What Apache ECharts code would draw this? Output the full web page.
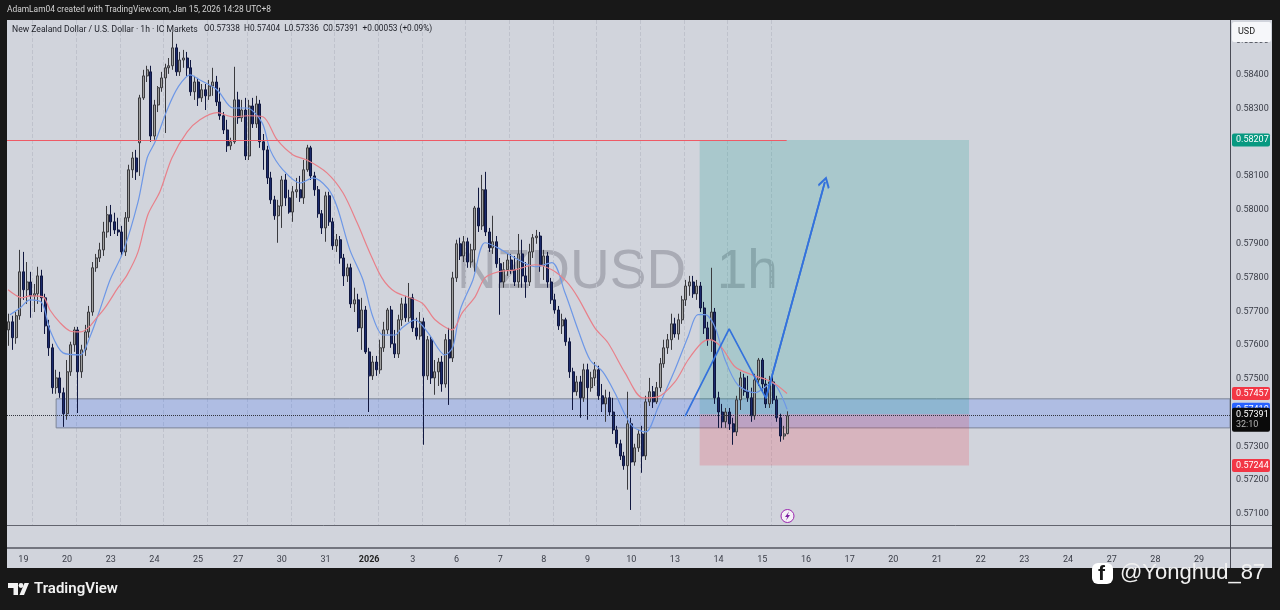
<!DOCTYPE html>
<html>
<head>
<meta charset="utf-8">
<title>NZDUSD 1h</title>
<style>
  html, body { margin: 0; padding: 0; background: #181818; }
  #chart { width: 1280px; height: 610px; }
</style>
<script src="https://cdn.jsdelivr.net/npm/echarts@6/dist/echarts.min.js"></script>
</head>
<body>
<div id="chart"></div>
<script>
// candles in two hour steps
const opens = [0.57645,0.57669,0.57622,0.57687,0.57817,0.57764,0.57787,0.57746,0.57752,0.57805,0.57740,0.57657,0.57592,0.57474,0.57503,0.57459,0.57397,0.57521,0.57601,0.57645,0.57521,0.57586,0.57639,0.57698,0.57829,0.57858,0.57882,0.57935,0.57986,0.57965,0.57941,0.57935,0.57876,0.57977,0.58119,0.58154,0.58199,0.58332,0.58397,0.58409,0.58219,0.58311,0.58362,0.58391,0.58421,0.58427,0.58480,0.58409,0.58444,0.58450,0.58421,0.58350,0.58379,0.58332,0.58356,0.58338,0.58367,0.58379,0.58320,0.58279,0.58237,0.58190,0.58202,0.58326,0.58273,0.58296,0.58160,0.58308,0.58255,0.58314,0.58202,0.58178,0.58095,0.58030,0.57983,0.58012,0.58089,0.58036,0.57994,0.58054,0.58060,0.58036,0.58119,0.58184,0.58101,0.58060,0.57989,0.57947,0.58042,0.57965,0.57894,0.57912,0.57858,0.57805,0.57829,0.57722,0.57734,0.57651,0.57704,0.57580,0.57509,0.57550,0.57527,0.57592,0.57645,0.57704,0.57604,0.57574,0.57675,0.57722,0.57681,0.57740,0.57651,0.57627,0.57669,0.57509,0.57616,0.57503,0.57521,0.57550,0.57485,0.57616,0.57562,0.57799,0.57900,0.57864,0.57906,0.57846,0.57882,0.58006,0.57953,0.58060,0.57935,0.57888,0.57906,0.57841,0.57787,0.57823,0.57852,0.57823,0.57787,0.57870,0.57805,0.57787,0.57876,0.57918,0.57923,0.57835,0.57864,0.57787,0.57734,0.57704,0.57657,0.57675,0.57610,0.57521,0.57462,0.57491,0.57444,0.57527,0.57474,0.57503,0.57527,0.57450,0.57426,0.57444,0.57402,0.57349,0.57308,0.57272,0.57243,0.57367,0.57254,0.57296,0.57337,0.57272,0.57432,0.57462,0.57432,0.57474,0.57545,0.57592,0.57616,0.57663,0.57633,0.57675,0.57734,0.57775,0.57787,0.57752,0.57775,0.57710,0.57651,0.57616,0.57698,0.57444,0.57402,0.57373,0.57402,0.57367,0.57343,0.57438,0.57503,0.57462,0.57444,0.57391,0.57497,0.57556,0.57485,0.57426,0.57491,0.57438,0.57385,0.57331,0.57338];
const closes = [0.57669,0.57622,0.57687,0.57817,0.57764,0.57787,0.57746,0.57752,0.57805,0.57740,0.57657,0.57592,0.57474,0.57503,0.57459,0.57397,0.57521,0.57601,0.57645,0.57521,0.57586,0.57639,0.57698,0.57829,0.57858,0.57882,0.57935,0.57986,0.57965,0.57941,0.57935,0.57876,0.57977,0.58119,0.58154,0.58113,0.58332,0.58397,0.58415,0.58219,0.58311,0.58362,0.58391,0.58421,0.58427,0.58480,0.58409,0.58444,0.58450,0.58421,0.58350,0.58379,0.58332,0.58356,0.58338,0.58367,0.58379,0.58320,0.58279,0.58237,0.58190,0.58202,0.58326,0.58273,0.58296,0.58160,0.58308,0.58255,0.58314,0.58202,0.58178,0.58095,0.58030,0.57983,0.58012,0.58089,0.58036,0.57994,0.58054,0.58060,0.58036,0.58119,0.58184,0.58101,0.58060,0.57989,0.57947,0.58042,0.57965,0.57894,0.57912,0.57858,0.57805,0.57829,0.57722,0.57734,0.57651,0.57704,0.57580,0.57509,0.57550,0.57527,0.57592,0.57645,0.57704,0.57604,0.57574,0.57675,0.57722,0.57681,0.57740,0.57651,0.57627,0.57669,0.57509,0.57616,0.57503,0.57521,0.57550,0.57485,0.57616,0.57562,0.57799,0.57900,0.57864,0.57906,0.57846,0.57882,0.58006,0.57953,0.58060,0.57935,0.57888,0.57906,0.57841,0.57787,0.57823,0.57852,0.57823,0.57787,0.57870,0.57805,0.57787,0.57876,0.57918,0.57923,0.57835,0.57864,0.57787,0.57734,0.57704,0.57657,0.57675,0.57610,0.57521,0.57462,0.57491,0.57444,0.57527,0.57474,0.57503,0.57527,0.57450,0.57426,0.57444,0.57402,0.57349,0.57308,0.57272,0.57243,0.57367,0.57254,0.57296,0.57337,0.57272,0.57432,0.57462,0.57432,0.57474,0.57545,0.57592,0.57616,0.57663,0.57633,0.57675,0.57734,0.57775,0.57787,0.57752,0.57775,0.57710,0.57651,0.57616,0.57698,0.57444,0.57402,0.57373,0.57402,0.57367,0.57343,0.57438,0.57503,0.57462,0.57444,0.57391,0.57497,0.57556,0.57485,0.57426,0.57491,0.57438,0.57385,0.57331,0.57337,0.57391];
const highs = [0.57693,0.57687,0.57698,0.57882,0.57876,0.57846,0.57817,0.57781,0.57832,0.57823,0.57752,0.57675,0.57604,0.57527,0.57521,0.57474,0.57556,0.57610,0.57654,0.57654,0.57601,0.57660,0.57716,0.57846,0.57870,0.57903,0.57965,0.58012,0.58015,0.57992,0.57977,0.57953,0.57994,0.58134,0.58172,0.58178,0.58341,0.58415,0.58427,0.58427,0.58326,0.58367,0.58409,0.58433,0.58450,0.58527,0.58492,0.58468,0.58474,0.58468,0.58444,0.58397,0.58391,0.58373,0.58373,0.58385,0.58421,0.58397,0.58362,0.58290,0.58267,0.58214,0.58424,0.58350,0.58326,0.58332,0.58326,0.58332,0.58338,0.58326,0.58225,0.58190,0.58113,0.58042,0.58030,0.58101,0.58107,0.58060,0.58071,0.58095,0.58101,0.58148,0.58193,0.58190,0.58113,0.58071,0.58000,0.58054,0.58054,0.57977,0.57929,0.57923,0.57870,0.57841,0.57841,0.57770,0.57752,0.57740,0.57716,0.57592,0.57568,0.57568,0.57616,0.57669,0.57710,0.57716,0.57645,0.57690,0.57740,0.57746,0.57784,0.57752,0.57681,0.57698,0.57681,0.57627,0.57627,0.57556,0.57562,0.57568,0.57633,0.57651,0.57817,0.57912,0.57918,0.57923,0.57918,0.57900,0.58012,0.58066,0.58104,0.58113,0.57947,0.57983,0.57923,0.57858,0.57846,0.57870,0.57870,0.57864,0.57929,0.57912,0.57846,0.57900,0.57929,0.57941,0.57935,0.57882,0.57876,0.57799,0.57752,0.57716,0.57693,0.57681,0.57622,0.57533,0.57509,0.57509,0.57545,0.57545,0.57521,0.57550,0.57539,0.57485,0.57468,0.57462,0.57444,0.57361,0.57320,0.57284,0.57462,0.57385,0.57308,0.57349,0.57361,0.57450,0.57503,0.57479,0.57491,0.57562,0.57616,0.57633,0.57693,0.57681,0.57693,0.57746,0.57793,0.57805,0.57805,0.57793,0.57787,0.57728,0.57669,0.57829,0.57710,0.57462,0.57426,0.57414,0.57414,0.57385,0.57450,0.57521,0.57515,0.57509,0.57474,0.57515,0.57562,0.57562,0.57503,0.57509,0.57509,0.57450,0.57397,0.57361,0.57404];
const lows = [0.57598,0.57586,0.57604,0.57675,0.57734,0.57722,0.57681,0.57698,0.57722,0.57698,0.57633,0.57568,0.57456,0.57456,0.57444,0.57358,0.57379,0.57509,0.57580,0.57399,0.57503,0.57568,0.57622,0.57687,0.57817,0.57846,0.57864,0.57918,0.57923,0.57929,0.57923,0.57864,0.57864,0.57965,0.58095,0.58089,0.58101,0.58326,0.58379,0.58202,0.58208,0.58290,0.58350,0.58228,0.58403,0.58415,0.58397,0.58397,0.58421,0.58397,0.58338,0.58326,0.58308,0.58320,0.58296,0.58326,0.58338,0.58308,0.58267,0.58225,0.58172,0.58178,0.58196,0.58255,0.58261,0.58148,0.58148,0.58243,0.58243,0.58184,0.58119,0.58077,0.58018,0.57971,0.57903,0.57947,0.58012,0.57989,0.57965,0.58036,0.58024,0.58018,0.58113,0.58089,0.58042,0.57977,0.57929,0.57906,0.57953,0.57882,0.57876,0.57841,0.57775,0.57787,0.57710,0.57698,0.57639,0.57586,0.57574,0.57402,0.57497,0.57509,0.57515,0.57580,0.57633,0.57592,0.57562,0.57562,0.57657,0.57669,0.57669,0.57639,0.57616,0.57616,0.57305,0.57497,0.57485,0.57453,0.57479,0.57462,0.57474,0.57423,0.57550,0.57787,0.57852,0.57846,0.57829,0.57829,0.57817,0.57935,0.57941,0.57923,0.57876,0.57870,0.57829,0.57690,0.57770,0.57805,0.57811,0.57775,0.57770,0.57770,0.57740,0.57775,0.57858,0.57900,0.57817,0.57793,0.57770,0.57722,0.57693,0.57645,0.57633,0.57598,0.57503,0.57408,0.57450,0.57385,0.57432,0.57379,0.57462,0.57479,0.57438,0.57402,0.57373,0.57391,0.57337,0.57296,0.57260,0.57231,0.57172,0.57112,0.57243,0.57284,0.57222,0.57260,0.57420,0.57414,0.57426,0.57462,0.57533,0.57574,0.57586,0.57622,0.57616,0.57663,0.57716,0.57746,0.57740,0.57734,0.57698,0.57633,0.57598,0.57580,0.57426,0.57355,0.57355,0.57355,0.57349,0.57305,0.57331,0.57408,0.57450,0.57432,0.57373,0.57379,0.57479,0.57462,0.57414,0.57414,0.57426,0.57373,0.57314,0.57320,0.57336];

// moving averages, read at knots (slot = bar position on the time scale)
const redSlots = [0.3,2.2,4.1,6.3,9.9,11.8,14.6,17.3,20.1,22.3,24.2,26.9,30.5,33,36,38.7,42,45.3,49.5,53,57.7,62.1,66.2,70.3,74.2,78.6,82.4,87.9,92.3,96.2,99.7,103,106.6,114,117.6,122.3,125,128.6,131.3,134.9,139.6,145.1,149.7,153.8,156.9,161.5,165.1,169.8,174.7,178.8,183.5,187.1,190.9,193.1,196.4,200,204.7,210.2,214.3];
const redMa = [0.57764,0.57749,0.57740,0.57746,0.57743,0.57704,0.57666,0.57642,0.57639,0.57651,0.57675,0.57710,0.57770,0.57808,0.57876,0.57986,0.58054,0.58154,0.58231,0.58267,0.58288,0.58276,0.58279,0.58276,0.58208,0.58163,0.58148,0.58110,0.58051,0.57962,0.57873,0.57799,0.57758,0.57725,0.57675,0.57645,0.57695,0.57743,0.57799,0.57817,0.57823,0.57838,0.57823,0.57787,0.57740,0.57651,0.57607,0.57518,0.57444,0.57447,0.57491,0.57556,0.57607,0.57616,0.57592,0.57536,0.57512,0.57491,0.57457];
const blueSlots = [0.8,3.6,6.3,9.6,11.8,15.4,20.1,22.8,25.5,28.3,31.9,36,38.5,40.7,44.2,47,50.3,53,57.7,62.1,65.9,70.1,72.3,75.8,80.5,84.1,88.2,90.7,94.2,97.8,100.5,103.3,106.6,108.5,112.1,115.7,120.3,122.5,124.5,128,131.3,134.9,139.6,145.1,149.7,153.3,156.9,160.2,163.7,167,169.8,172,175.5,178.8,183.5,187.1,189.8,191.8,194.5,197.3,200.8,205.5,210.2,214.3];
const blueMa = [0.57690,0.57710,0.57734,0.57725,0.57645,0.57577,0.57571,0.57625,0.57704,0.57793,0.57876,0.58024,0.58154,0.58202,0.58302,0.58364,0.58400,0.58385,0.58356,0.58302,0.58302,0.58258,0.58178,0.58119,0.58080,0.58095,0.58063,0.58009,0.57882,0.57793,0.57684,0.57630,0.57630,0.57651,0.57675,0.57636,0.57571,0.57595,0.57704,0.57793,0.57903,0.57888,0.57858,0.57832,0.57844,0.57755,0.57645,0.57556,0.57521,0.57459,0.57394,0.57358,0.57343,0.57414,0.57527,0.57625,0.57690,0.57690,0.57654,0.57556,0.57482,0.57459,0.57488,0.57410];

// hand drawn zigzag with arrow
const trendSlots = [186.3,198.4,208.5,224.7];
const trendPrices = [0.57390,0.57648,0.57443,0.58083];

const slotCount = 336;
const dateLabels = ['19','20','23','24','25','27','30','31','2026','3','6','7','8','9','10','13','14','15','16','17','20','21','22','23','24','27','28','29'];
const labelSlots = [4,16,28,40,52,63,75,87,99,111,123,135,147,159,171,183,195,207,219,231,243,255,267,279,291,303,315,327];
const gridSlots = [7,19,31,43,55,66,78,90,102,114,126,138,150,162,174,186,198,210];

const levelTarget = 0.58207;
const levelStop = 0.57244;
const levelEntry = 0.57395;
const levelLast = 0.57391;
const levelRedMa = 0.57457;
const levelBlueMa = 0.57410;
const zoneTop = 0.57441;
const zoneBottom = 0.57355;

const panelColor = '#d1d4dc';
const axisTextColor = '#3a3d47';

const categories = [];
for (let i = 0; i < slotCount; i++) {
  const at = labelSlots.indexOf(i);
  categories.push(at >= 0 ? dateLabels[at] : '');
}

const candleData = closes.map((c, i) => [opens[i], c, lows[i], highs[i]]);
const zip = (xs, ys) => xs.map((x, i) => [x, ys[i]]);

function priceTag(value, text, bg, labelExtra) {
  return [
    {
      coord: [0, value],
      lineStyle: { color: 'rgba(0,0,0,0)', width: 0 },
      label: Object.assign({
        show: true, position: 'end', distance: 2, formatter: text,
        backgroundColor: bg, color: '#fff', fontSize: 9, fontFamily: 'Roboto',
        padding: [2, 4], borderRadius: 2, width: 30, align: 'left'
      }, labelExtra || {})
    },
    { coord: [slotCount, value] }
  ];
}

const chart = echarts.init(document.getElementById('chart'));
chart.setOption({
  animation: false,
  backgroundColor: '#181818',
  grid: { left: 7, right: 50, top: 20, height: 527.8, containLabel: false },
  xAxis: [
    {
      type: 'category',
      data: categories,
      boundaryGap: true,
      axisLine: { show: false },
      axisTick: { show: false },
      axisLabel: {
        interval: (i) => labelSlots.includes(i),
        hideOverlap: false,
        color: axisTextColor,
        fontSize: 9,
        fontFamily: 'Roboto',
        margin: 7,
        formatter: (v) => (v === '2026' ? '{y|2026}' : v),
        rich: { y: { fontWeight: 'bold', fontSize: 9, color: '#222', fontFamily: 'Roboto' } }
      },
      splitLine: {
        show: true,
        interval: (i) => gridSlots.includes(i),
        lineStyle: { color: '#bfc2cc', type: 'dashed', width: 1 }
      }
    },
    { type: 'value', min: 0, max: slotCount, show: false }
  ],
  yAxis: {
    type: 'value',
    position: 'right',
    min: 0.57,
    max: 0.585625,
    interval: 0.001,
    axisLine: { show: false },
    axisTick: { show: false },
    splitLine: { show: false },
    axisLabel: {
      color: axisTextColor,
      fontSize: 9,
      fontFamily: 'Roboto',
      margin: 6,
      padding: [4, 0, 0, 0],
      showMinLabel: false,
      showMaxLabel: false,
      formatter: (v) => v.toFixed(5)
    }
  },
  series: [
    {
      name: 'NZDUSD',
      type: 'candlestick',
      z: 3,
      barWidth: 2.5,
      data: candleData,
      itemStyle: {
        color: '#a0a0a0',
        color0: '#1b2a6b',
        borderColor: '#3a3a3e',
        borderColor0: '#10173f',
        borderWidth: 1
      }
    },
    {
      name: 'MA blue',
      type: 'line',
      xAxisIndex: 1,
      z: 4,
      showSymbol: false,
      smooth: 0.3,
      data: zip(blueSlots, blueMa),
      lineStyle: { color: '#6d97e6', width: 1.2 }
    },
    {
      name: 'MA red',
      type: 'line',
      xAxisIndex: 1,
      z: 4,
      showSymbol: false,
      smooth: 0.3,
      data: zip(redSlots, redMa),
      lineStyle: { color: '#e8808a', width: 1.2 }
    },
    {
      name: 'Trend',
      type: 'line',
      xAxisIndex: 1,
      z: 5,
      showSymbol: false,
      data: zip(trendSlots, trendPrices),
      lineStyle: { color: '#3472dc', width: 1.7 },
      markArea: {
        silent: true,
        data: [
          [
            { coord: [13.5, zoneTop], itemStyle: { color: 'rgba(41,98,255,0.2)', borderColor: '#7d8597', borderWidth: 1 } },
            { coord: [slotCount, zoneBottom] }
          ],
          [
            { coord: [190.3, levelTarget], itemStyle: { color: 'rgba(8,153,140,0.2)' } },
            { coord: [264.3, levelEntry] }
          ],
          [
            { coord: [190.3, levelEntry], itemStyle: { color: 'rgba(242,54,69,0.2)' } },
            { coord: [264.3, levelStop] }
          ]
        ]
      },
      markLine: {
        silent: true,
        symbol: ['none', 'none'],
        animation: false,
        data: [
          [
            { coord: [0, levelTarget], lineStyle: { color: '#ee5a66', width: 1, type: 'solid' }, label: { show: false } },
            { coord: [214.2, levelTarget] }
          ],
          [
            { coord: [trendSlots[2], trendPrices[2]], symbol: 'none', lineStyle: { color: '#3472dc', width: 1.7, type: 'solid' }, label: { show: false } },
            { coord: [trendSlots[3], trendPrices[3]], symbol: 'path://M0 10L10 0L20 10L18 12L10 4L2 12Z', symbolSize: 12 }
          ],
          [
            { coord: [0, levelLast], lineStyle: { color: '#33363f', width: 1, type: 'dotted' }, label: { show: false } },
            { coord: [slotCount, levelLast] }
          ],
          priceTag(levelTarget, '0.58207', '#089981'),
          priceTag(levelRedMa, '0.57457', '#f23645'),
          priceTag(levelStop, '0.57244', '#f23645'),
          priceTag(levelBlueMa, '0.57410', '#2962ff'),
          priceTag(levelLast, '{a|0.57391}\n{b|32:10}', '#0a0a0a', {
            offset: [0, 4],
            rich: {
              a: { color: '#fff', fontSize: 9, fontFamily: 'Roboto', lineHeight: 10 },
              b: { color: '#b5b5b5', fontSize: 9, fontFamily: 'Roboto', lineHeight: 10 }
            }
          })
        ]
      }
    }
  ],
  graphic: [
    // pane background
    { type: 'rect', z: -1, silent: true, shape: { x: 7, y: 20, width: 1265, height: 548 }, style: { fill: panelColor } },
    // cover grid lines in the empty strip below the price pane
    { type: 'rect', z: 1, silent: true, shape: { x: 7, y: 526, width: 1223, height: 22 }, style: { fill: panelColor } },
    { type: 'text', z: 0, silent: true, x: 457, y: 245, style: { text: 'NZDUSD  1h', font: '55px "Liberation Sans"', fill: '#a9abb5' } },
    { type: 'line', z: 6, silent: true, shape: { x1: 7, y1: 525.5, x2: 1272, y2: 525.5 }, style: { stroke: '#62646e', lineWidth: 1 } },
    { type: 'line', z: 6, silent: true, shape: { x1: 7, y1: 548, x2: 1272, y2: 548 }, style: { stroke: '#73757f', lineWidth: 2 } },
    { type: 'line', z: 6, silent: true, shape: { x1: 1230.5, y1: 20, x2: 1230.5, y2: 568 }, style: { stroke: '#4a4c56', lineWidth: 1 } },
    // currency box
    { type: 'rect', z: 8, silent: true, shape: { x: 1232, y: 22, width: 39, height: 20, r: 2 }, style: { fill: '#f6f7fa' } },
    { type: 'text', z: 9, silent: true, x: 1238, y: 27, style: { text: 'USD', font: '9px Roboto', fill: '#222' } },
    // header and legend text
    { type: 'text', silent: true, x: 7, y: 6, style: { text: 'AdamLam04 created with TradingView.com, Jan 15, 2026 14:28 UTC+8', font: '8.4px Roboto', fill: '#d4d4d4' } },
    { type: 'text', z: 9, silent: true, x: 12, y: 25, style: { text: 'New Zealand Dollar / U.S. Dollar · 1h · IC Markets', font: '8.6px Roboto', fill: '#20222a' } },
    { type: 'text', z: 9, silent: true, x: 204, y: 25, style: { text: 'O0.57338  H0.57404  L0.57336  C0.57391  +0.00053 (+0.09%)', font: '8.3px Roboto', fill: '#20222a' } },
    // lightning marker
    { type: 'circle', z: 7, silent: true, shape: { cx: 787.5, cy: 516, r: 6.5 }, style: { fill: '#f4f0f6', stroke: '#9c27b0', lineWidth: 1 } },
    { type: 'polygon', z: 8, silent: true, shape: { points: [[789, 511.5], [785, 517], [787.3, 517], [786, 520.5], [790, 515], [787.7, 515]] }, style: { fill: '#7b1fa2' } },
    // TradingView logo
    { type: 'polygon', silent: true, shape: { points: [[8, 583], [18, 583], [18, 595], [13.5, 595], [13.5, 588], [8, 588]] }, style: { fill: '#f2f2f2' } },
    { type: 'circle', silent: true, shape: { cx: 21, cy: 585.5, r: 2.4 }, style: { fill: '#f2f2f2' } },
    { type: 'polygon', silent: true, shape: { points: [[24.5, 583], [29, 583], [24, 595], [19.5, 595]] }, style: { fill: '#f2f2f2' } },
    { type: 'text', silent: true, x: 34, y: 582, style: { text: 'TradingView', font: '600 15px Roboto', fill: '#f2f2f2' } },
    // facebook watermark
    { type: 'rect', z: 9, silent: true, shape: { x: 1092, y: 563, width: 21, height: 21, r: 6 }, style: { fill: '#ffffff' } },
    { type: 'text', z: 10, silent: true, x: 1098, y: 564, style: { text: 'f', font: 'bold 21px "Liberation Sans"', fill: '#181818' } },
    { type: 'text', z: 9, silent: true, x: 1120, y: 562, style: { text: '@Yonghud_87', font: '22px "Liberation Sans"', fill: '#f0f0f0' } }
  ]
});
</script>
</body>
</html>
